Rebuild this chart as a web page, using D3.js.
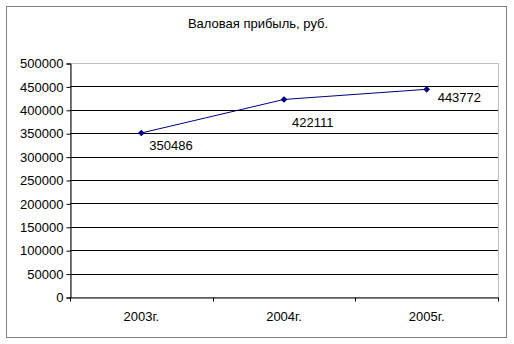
<!DOCTYPE html>
<html><head><meta charset="utf-8">
<script src="https://cdn.jsdelivr.net/npm/d3@7"></script>
<style>html,body{margin:0;padding:0;background:#fff;}svg{display:block;font-family:"Liberation Sans",Arial,sans-serif;}</style>
</head><body>
<script>
const title = "Валовая прибыль, руб.";
const categories = ["2003г.", "2004г.", "2005г."];
const values = [350486, 422111, 443772];
const yTicks = [0,50000,100000,150000,200000,250000,300000,350000,400000,450000,500000];

const W = 514, H = 344;
const plot = {left: 70, right: 498, top: 63, bottom: 297};
const svg = d3.select("body").append("svg").attr("width", W).attr("height", H);

// outer frame
svg.append("rect").attr("x", 6.5).attr("y", 6.5).attr("width", 500).attr("height", 331)
  .attr("fill", "#fff").attr("stroke", "#000").attr("stroke-dasharray", "1,1");

svg.append("text").attr("x", 258).attr("y", 28).attr("text-anchor", "middle")
  .attr("font-size", 13).text(title);

const x = d3.scaleBand().domain(categories).range([plot.left, plot.right]);
const y = d3.scaleLinear().domain([0, 500000]).range([plot.bottom, plot.top]);

// gridlines
svg.append("g").selectAll("line").data(yTicks.filter(d => d > 0 && d < 500000)).join("line")
  .attr("x1", plot.left).attr("x2", plot.right)
  .attr("y1", d => Math.round(y(d)) + 0.5).attr("y2", d => Math.round(y(d)) + 0.5)
  .attr("stroke", "#000").attr("stroke-width", 1);

// plot area border (gray dotted)
svg.append("rect").attr("x", plot.left + 0.5).attr("y", plot.top + 0.5)
  .attr("width", plot.right - plot.left).attr("height", plot.bottom - plot.top)
  .attr("fill", "none").attr("stroke", "#808080").attr("stroke-dasharray", "1,1");

// y axis
const yAxis = d3.axisLeft(y).tickValues(yTicks).tickSize(4).tickPadding(3).tickFormat(d3.format("d"));
const gy = svg.append("g").attr("transform", `translate(${plot.left + 0.5},0.5)`).call(yAxis);
gy.select(".domain").attr("stroke", "#000");
gy.selectAll(".tick line").attr("stroke", "#000");
gy.selectAll("text").attr("font-size", 13).attr("font-family", "Liberation Sans, Arial, sans-serif").attr("fill", "#000");

// x axis
const xAxis = d3.axisBottom(x).tickSize(0).tickPadding(14);
const gx = svg.append("g").attr("transform", `translate(0,${plot.bottom + 0.5})`).call(xAxis);
gx.select(".domain").attr("stroke", "#000");
gx.selectAll("text").attr("font-size", 13).attr("font-family", "Liberation Sans, Arial, sans-serif").attr("fill", "#000");
const bounds = categories.map(c => x(c)).concat([x.range()[1]]);
gx.selectAll(".bt").data(bounds).join("line").attr("class", "bt")
  .attr("x1", d => Math.round(d) + 0.5).attr("x2", d => Math.round(d) + 0.5)
  .attr("y1", 0).attr("y2", 4).attr("stroke", "#000");

// line
const cx = c => x(c) + x.bandwidth() / 2;
const line = d3.line().x((d, i) => cx(categories[i])).y(d => y(d));
svg.append("path").datum(values).attr("d", line).attr("fill", "none")
  .attr("stroke", "#000080").attr("stroke-width", 1);

// markers
svg.append("g").selectAll("path").data(values).join("path")
  .attr("transform", (d, i) => `translate(${cx(categories[i])},${y(d)})`)
  .attr("d", d3.symbol().type(d3.symbolDiamond2).size(28))
  .attr("fill", "#000080");

// data labels
const labelOffsets = [[8, 17], [8, 28], [11, 13]];
svg.append("g").selectAll("text").data(values).join("text")
  .attr("x", (d, i) => cx(categories[i]) + labelOffsets[i][0])
  .attr("y", (d, i) => y(d) + labelOffsets[i][1])
  .attr("font-size", 13).text(d => d);
</script>
</body></html>
